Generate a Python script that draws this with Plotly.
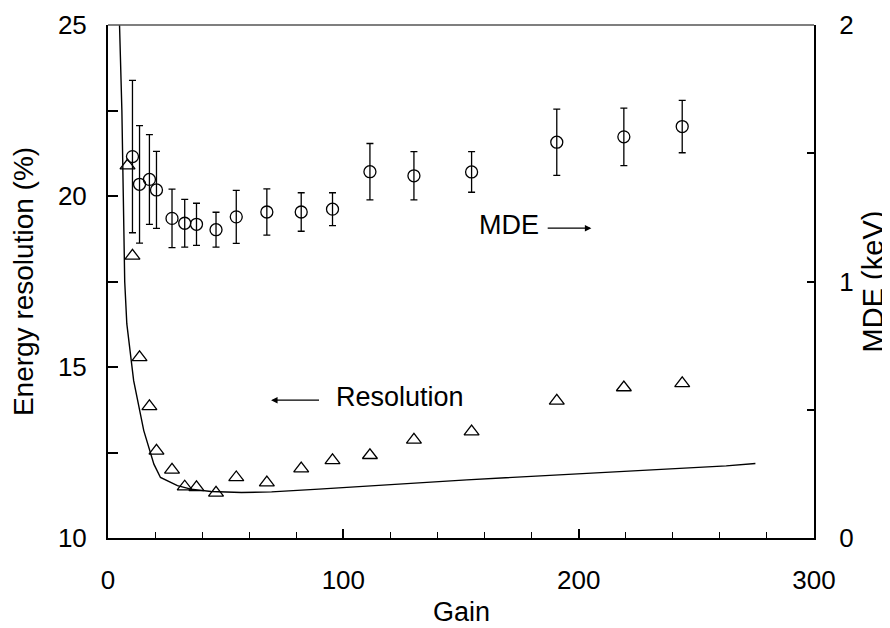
import plotly.graph_objects as go

# Resolution data (triangles), left axis
gain_res = [8.3, 10.4, 13.4, 17.6, 20.6, 27.2, 32.6, 37.6, 45.9, 54.5, 67.5,
            82.1, 95.4, 111.3, 130.0, 154.5, 190.7, 219.2, 244.0]
resolution = [20.89, 18.25, 15.28, 13.85, 12.55, 11.99, 11.50, 11.48, 11.32, 11.77, 11.62,
              12.03, 12.27, 12.42, 12.87, 13.11, 14.01, 14.40, 14.52]

# MDE data (circles with error bars), right axis
gain_mde = [10.4, 13.4, 17.6, 20.6, 27.2, 32.6, 37.6, 45.9, 54.5, 67.5,
            82.1, 95.4, 111.3, 130.0, 154.5, 190.7, 219.2, 244.0]
mde = [1.487, 1.379, 1.398, 1.357, 1.246, 1.227, 1.223, 1.202, 1.252, 1.271,
       1.271, 1.282, 1.428, 1.412, 1.427, 1.543, 1.564, 1.604]
mde_err = [0.297, 0.229, 0.175, 0.150, 0.114, 0.093, 0.082, 0.068, 0.103, 0.090,
           0.075, 0.064, 0.110, 0.094, 0.079, 0.129, 0.112, 0.102]

# Model curve for resolution
fit_gain = [4.9, 5.9, 6.5, 7.1, 8.0, 10.9, 15.2, 19.5, 22.3, 29.5, 35.2, 43.8,
            56.7, 69.5, 89.6, 121.0, 152.5, 262.7, 275.1]
fit_res = [25.0, 22.5, 20.0, 17.5, 16.26, 14.6, 13.14, 12.16, 11.77, 11.53, 11.43, 11.36,
           11.33, 11.35, 11.43, 11.56, 11.70, 12.11, 12.18]

x_ticks = [0, 100, 200, 300]
x_minor = [20, 40, 60, 80, 120, 140, 160, 180, 220, 240, 260, 280]
y_ticks = [10, 12.5, 15, 17.5, 20, 22.5, 25]
y_ticktext = ["10", "", "15", "", "20", "", "25"]
y2_ticks = [0, 0.5, 1, 1.5, 2]
y2_ticktext = ["0", "", "1", "", "2"]

FONT = "Liberation Sans, Arial, sans-serif"

fig = go.Figure()

fig.add_trace(go.Scatter(
    x=fit_gain, y=fit_res, mode="lines",
    line=dict(color="black", width=1.4), yaxis="y", hoverinfo="skip"))

fig.add_trace(go.Scatter(
    x=gain_res, y=resolution, mode="markers",
    marker=dict(symbol="triangle-up-open", size=13, color="black",
                line=dict(color="black", width=1.3)),
    yaxis="y"))

fig.add_trace(go.Scatter(
    x=gain_mde, y=mde, mode="markers",
    marker=dict(symbol="circle-open", size=12, color="black",
                line=dict(color="black", width=1.3)),
    error_y=dict(type="data", array=mde_err, symmetric=True,
                 color="black", thickness=1.3, width=3.5),
    yaxis="y2"))

# Arrow labels
fig.add_annotation(x=69.3, y=14.03, ax=90.3, ay=14.03, xref="x", yref="y",
                   axref="x", ayref="y", text="", showarrow=True,
                   arrowhead=2, arrowsize=1, arrowwidth=1.3, arrowcolor="black")
fig.add_annotation(x=96.1, y=14.12, xref="x", yref="y", text="Resolution",
                   showarrow=False, xanchor="left", yanchor="middle",
                   font=dict(family=FONT, size=27, color="black"))
fig.add_annotation(x=205.4, y=19.06, ax=186.2, ay=19.06, xref="x", yref="y",
                   axref="x", ayref="y", text="", showarrow=True,
                   arrowhead=2, arrowsize=1, arrowwidth=1.3, arrowcolor="black")
fig.add_annotation(x=156.6, y=19.14, xref="x", yref="y", text="MDE",
                   showarrow=False, xanchor="left", yanchor="middle",
                   font=dict(family=FONT, size=27, color="black"))

# x-axis title placed as a paper annotation (axis titles are clamped to margins)
fig.add_annotation(x=0.5, y=0, xref="paper", yref="paper", yshift=-74,
                   text="Gain", showarrow=False, xanchor="center", yanchor="middle",
                   font=dict(family=FONT, size=27, color="black"))

# top frame line
fig.add_shape(type="line", xref="paper", yref="paper", x0=0, x1=1, y0=1, y1=1,
              line=dict(color="#555555", width=1.5))

# page body has an 8px margin, so the figure is sized to fit the 890x628 window
fig.update_layout(
    width=882, height=620, autosize=False,
    margin=dict(l=100, r=76, t=17, b=90),
    plot_bgcolor="white", paper_bgcolor="white",
    showlegend=False,
    font=dict(family=FONT, size=26, color="black"),
    xaxis=dict(
        range=[0, 300], tickvals=x_ticks, ticks="inside", ticklen=9, tickwidth=1.5,
        tickcolor="black", showline=True, linecolor="black", linewidth=2,
        showgrid=False, zeroline=False, ticklabelstandoff=18, automargin=False,
        tickfont=dict(family=FONT, size=26, color="black"),
        minor=dict(tickvals=x_minor, ticks="inside", ticklen=6, tickwidth=1.2,
                   tickcolor="black", showgrid=False),
    ),
    yaxis=dict(
        range=[10, 25], tickvals=y_ticks, ticktext=y_ticktext, ticks="inside",
        ticklen=10, tickwidth=1.5, tickcolor="black", showline=True,
        linecolor="black", linewidth=2, showgrid=False, zeroline=False,
        ticklabelstandoff=14, automargin=False,
        tickfont=dict(family=FONT, size=26, color="black"),
        title=dict(text="Energy resolution (%)",
                   font=dict(family=FONT, size=28, color="black"), standoff=18),
    ),
    yaxis2=dict(
        range=[0, 2], tickvals=y2_ticks, ticktext=y2_ticktext, ticks="inside",
        ticklen=7, tickwidth=1.5, tickcolor="black", showline=True,
        linecolor="black", linewidth=2, showgrid=False, zeroline=False,
        overlaying="y", side="right", ticklabelstandoff=18, automargin=False,
        tickfont=dict(family=FONT, size=26, color="black"),
        title=dict(text="MDE (keV)", font=dict(family=FONT, size=29, color="black"), standoff=10),
    ),
)

fig.write_html("out.html")
